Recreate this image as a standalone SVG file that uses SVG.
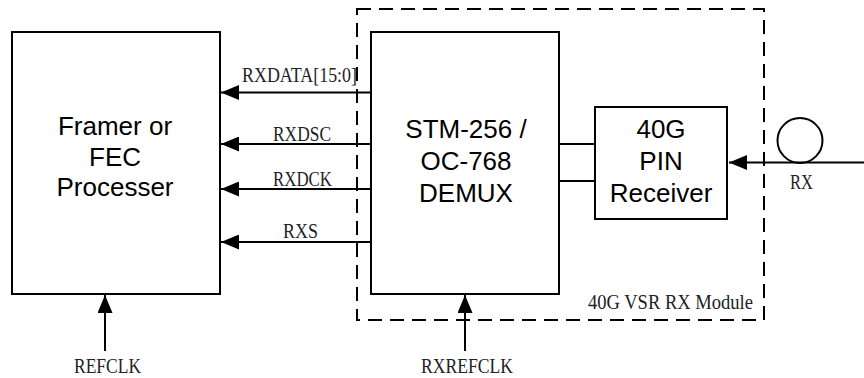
<svg xmlns="http://www.w3.org/2000/svg" width="864" height="378" viewBox="0 0 864 378">
<style>
.box{fill:#fff;stroke:#000;stroke-width:2}
.ln{stroke:#000;stroke-width:2;fill:none}
.big{font-family:"Liberation Sans",Arial,sans-serif;font-size:26px;fill:#000;text-anchor:middle}
.lbl{font-family:"Liberation Serif","Times New Roman",serif;font-size:21px;fill:#222}
</style>
<defs>
<marker id="ah" viewBox="0 0 18 15" refX="18" refY="7.5" markerWidth="18" markerHeight="15" markerUnits="userSpaceOnUse" orient="auto">
<path d="M0,0 L18,7.5 L0,15 Z" fill="#000"/>
</marker>
</defs>
<rect x="0" y="0" width="864" height="378" fill="#fff"/>
<g id="module">
<rect x="357" y="9" width="407" height="311" fill="none" stroke="#000" stroke-width="2" stroke-dasharray="14,8"/>
<text class="lbl" x="588" y="309" textLength="165" lengthAdjust="spacingAndGlyphs">40G VSR RX Module</text>
</g>
<g id="framer">
<rect class="box" x="12" y="32" width="208" height="262"/>
<text class="big" x="115" y="135">Framer or</text>
<text class="big" x="115" y="166">FEC</text>
<text class="big" x="115" y="196">Processer</text>
</g>
<g id="demux">
<rect class="box" x="371" y="32" width="188" height="262"/>
<text class="big" x="466" y="138">STM-256 /</text>
<text class="big" x="466" y="170">OC-768</text>
<text class="big" x="466" y="202">DEMUX</text>
</g>
<g id="pin">
<rect class="box" x="595" y="107" width="132" height="112"/>
<text class="big" x="661" y="138">40G</text>
<text class="big" x="661" y="170">PIN</text>
<text class="big" x="661" y="202">Receiver</text>
</g>
<g id="fiber">
<circle cx="800" cy="140.5" r="22.5" fill="none" stroke="#000" stroke-width="2"/>
<text class="lbl" x="790" y="189" textLength="23" lengthAdjust="spacingAndGlyphs">RX</text>
</g>
<g id="connectors">
<line class="ln" x1="371" y1="92.5" x2="221" y2="92.5" marker-end="url(#ah)"/>
<line class="ln" x1="371" y1="144" x2="221" y2="144" marker-end="url(#ah)"/>
<line class="ln" x1="371" y1="189" x2="221" y2="189" marker-end="url(#ah)"/>
<line class="ln" x1="371" y1="242" x2="221" y2="242" marker-end="url(#ah)"/>
<line class="ln" x1="559" y1="144" x2="595" y2="144"/>
<line class="ln" x1="559" y1="181" x2="595" y2="181"/>
<line class="ln" x1="864" y1="162.5" x2="729" y2="162.5" marker-end="url(#ah)"/>
<line class="ln" x1="105" y1="351" x2="105" y2="295" marker-end="url(#ah)"/>
<line class="ln" x1="465" y1="351" x2="465" y2="295" marker-end="url(#ah)"/>
<text class="lbl" x="242" y="82" textLength="115" lengthAdjust="spacingAndGlyphs">RXDATA[15:0]</text>
<text class="lbl" x="273" y="141" textLength="58" lengthAdjust="spacingAndGlyphs">RXDSC</text>
<text class="lbl" x="273" y="186" textLength="59" lengthAdjust="spacingAndGlyphs">RXDCK</text>
<text class="lbl" x="283" y="238" textLength="35" lengthAdjust="spacingAndGlyphs">RXS</text>
<text class="lbl" x="74" y="373" textLength="67" lengthAdjust="spacingAndGlyphs">REFCLK</text>
<text class="lbl" x="421" y="373" textLength="92" lengthAdjust="spacingAndGlyphs">RXREFCLK</text>
</g>
</svg>
